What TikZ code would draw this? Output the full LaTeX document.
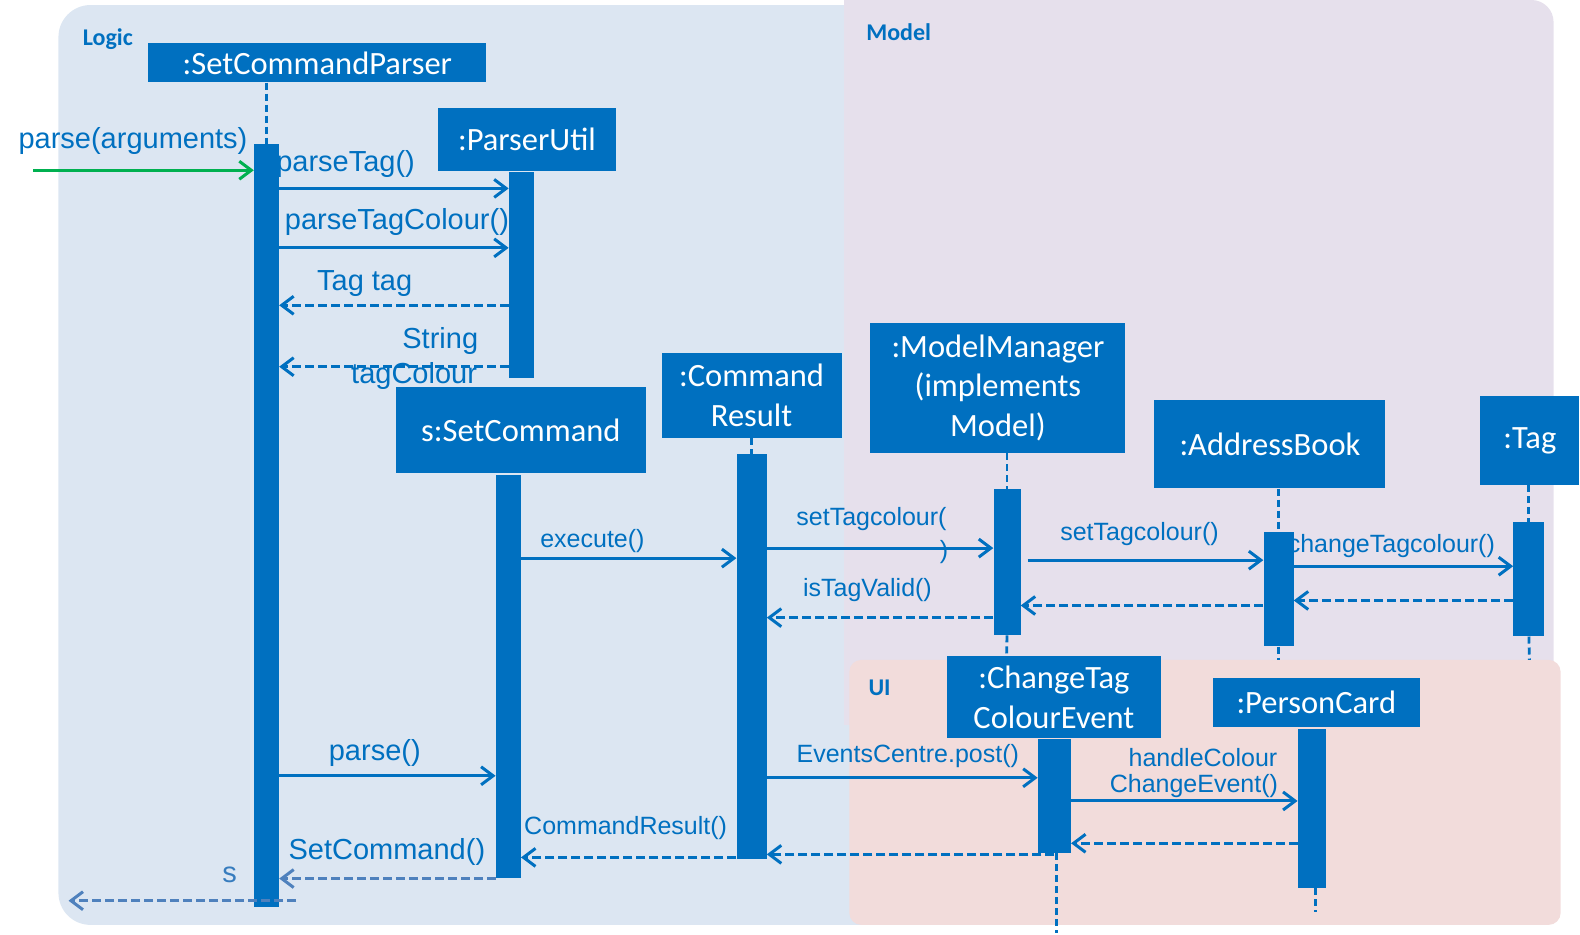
\documentclass[tikz,border=0pt]{standalone}
\usepackage{fontspec}
\setmainfont{Liberation Sans}
\newfontfamily\calfont{Carlito}
\usetikzlibrary{arrows.meta}
\definecolor{mblue}{HTML}{0070C0}
\definecolor{logicbg}{HTML}{DCE6F2}
\definecolor{modelbg}{HTML}{E6E0EC}
\definecolor{uibg}{HTML}{F2DCDB}
\definecolor{mgreen}{HTML}{00B050}
\definecolor{lblue}{HTML}{4F81BD}
\begin{document}
\begin{tikzpicture}[x=1.0075pt,y=-1.0075pt,
  objbox/.style={fill=mblue, text=white, inner sep=0pt, align=center, font=\calfont\fontsize{32.5}{39.5}\selectfont},
  actbar/.style={fill=mblue, inner sep=0pt},
  lifeline/.style={draw=mblue, line width=2.8pt, dash pattern=on 7pt off 4pt},
  msg/.style={draw=mblue, line width=3pt, -{Straight Barb[length=12pt,width=18pt]}},
  retmsg/.style={msg, dash pattern=on 9pt off 4pt},
  biglbl/.style={text=mblue, inner sep=0pt, yshift=-2.5pt, font=\fontsize{29}{33}\selectfont},
  smalllbl/.style={text=mblue, inner sep=0pt, yshift=-2.5pt, font=\fontsize{25}{29.5}\selectfont},
  regionlbl/.style={text=mblue, inner sep=0pt, yshift=-1.5pt, font=\calfont\bfseries\fontsize{24}{28}\selectfont}
]
\useasboundingbox (0,0) rectangle (1568.24,927.05);
% backgrounds
\fill[logicbg, rounded corners=32pt] (58,5) rectangle (950,918);
\fill[modelbg, rounded corners=22pt] (838,0) rectangle (1542,720);
\fill[modelbg] (838,0) rectangle (900,720);
\fill[uibg, rounded corners=12pt] (843,655) rectangle (1549,918);
\node[regionlbl] (lLogic) at (107,37) {Logic};
\node[regionlbl] (lModel) at (892,30) {Model};
\node[regionlbl] (lUI) at (873,681) {UI};

% object boxes
\node[objbox, minimum width=338pt, minimum height=39pt] (scp) at (315,62.5) {:SetCommandParser};
\node[objbox, minimum width=178pt, minimum height=63pt] (pu) at (523,138.5) {:ParserUtil};
\node[objbox, minimum width=250pt, minimum height=86pt] (sc) at (517,427) {s:SetCommand};
\node[objbox, minimum width=180pt, minimum height=85pt] (cr) at (746,392.5) {:Command\\Result};
\node[objbox, minimum width=255pt, minimum height=130pt] (mm) at (990.5,385) {:ModelManager\\(implements\\Model)};
\node[objbox, minimum width=231pt, minimum height=88pt] (ab) at (1260.5,441) {:AddressBook};
\node[objbox, minimum width=99pt, minimum height=89pt] (tg) at (1518.5,437.5) {:Tag};
\node[objbox, minimum width=214pt, minimum height=82pt] (ce) at (1046,692) {:ChangeTag\\ColourEvent};
\node[objbox, minimum width=207pt, minimum height=49pt] (pc) at (1306.5,697.5) {:PersonCard};

% labels (drawn before activation bars, as in the reference)
\node[biglbl] (lParseArgs) at (132,137) {parse(arguments)};
\node[biglbl] (lParseTag) at (343,160) {parseTag()};
\node[biglbl] (lParseTagColour) at (394,218) {parseTagColour()};
\node[biglbl] (lTagTag) at (362,279) {Tag tag};
\node[biglbl] (lString) at (437,336) {String};
\node[biglbl] (lTagColour) at (411,371) {tagColour};
\node[smalllbl] (lExecute) at (588,535) {execute()};
\node[smalllbl] (lSetTc1) at (865,513) {setTagcolour(};
\node[smalllbl] (lSetTc1b) at (937,545) {)};
\node[smalllbl] (lSetTc2) at (1131,528) {setTagcolour()};
\node[smalllbl] (lChangeTc) at (1381,539) {changeTagcolour()};
\node[smalllbl] (lIsValid) at (861,583) {isTagValid()};
\node[biglbl] (lParse) at (372,745) {parse()};
\node[smalllbl] (lPost) at (901,748) {EventsCentre.post()};
\node[smalllbl] (lHandle1) at (1194,749) {handleColour};
\node[smalllbl] (lHandle2) at (1185,778) {ChangeEvent()};
\node[smalllbl] (lCR) at (621,819) {CommandResult()};
\node[biglbl] (lSC) at (384,843) {SetCommand()};
\node[biglbl, text=lblue!70!mblue] (lS) at (228,866) {s};

% activation bars
\node[actbar, minimum width=25pt, minimum height=763pt] (scpA) at (264.5,521.5) {};
\node[actbar, minimum width=25pt, minimum height=206pt] (puA) at (517.5,273) {};
\node[actbar, minimum width=25pt, minimum height=403pt] (scA) at (504.5,671.5) {};
\node[actbar, minimum width=30pt, minimum height=405pt] (crA) at (746,651.5) {};
\node[actbar, minimum width=27pt, minimum height=146pt] (mmA) at (999.5,558) {};
\node[actbar, minimum width=30pt, minimum height=114pt] (abA) at (1269,585) {};
\node[actbar, minimum width=31pt, minimum height=114pt] (tgA) at (1517.5,575) {};
\node[actbar, minimum width=33pt, minimum height=114pt] (ceA) at (1046.5,790) {};
\node[actbar, minimum width=28pt, minimum height=159pt] (pcA) at (1302,802.5) {};

% lifelines
\draw[lifeline] (scp.south -| scpA.center) -- (scpA.north);
\draw[lifeline] (cr.south) -- (crA.north);
\draw[lifeline] (mm.south -| mmA.center) -- (mmA.north);
\coordinate (mmEnd) at (999,655);
\draw[lifeline] (mmA.south) -- (mmEnd);
\draw[lifeline] (ab.south -| abA.center) -- (abA.north);
\coordinate (abEnd) at (1269,655);
\draw[lifeline] (abA.south) -- (abEnd);
\draw[lifeline] (tg.south -| tgA.center) -- (tgA.north);
\coordinate (tgEnd) at (1518,655);
\draw[lifeline] (tgA.south) -- (tgEnd);
\coordinate (ceEnd) at (1049,926);
\draw[lifeline] (ceA.south -| ceEnd) -- (ceEnd);
\coordinate (pcEnd) at (1306,905);
\draw[lifeline] (pcA.south -| pcEnd) -- (pcEnd);

% messages
\coordinate (startP) at (33,169);
\draw[msg, draw=mgreen] (startP) -- (scpA.west |- startP);
\draw[msg] (scpA.east |- 0,187) -- (puA.west |- 0,187);
\draw[msg] (scpA.east |- 0,246) -- (puA.west |- 0,246);
\draw[retmsg] (puA.west |- 0,303) -- (scpA.east |- 0,303);
\draw[retmsg] (puA.west |- 0,364) -- (scpA.east |- 0,364);

\draw[msg] (scA.east |- 0,554) -- (crA.west |- 0,554);
\draw[msg] (crA.east |- 0,544) -- (mmA.west |- 0,544);
\coordinate (abMsgStart) at (1020,556);
\draw[msg] (abMsgStart) -- (abA.west |- abMsgStart);
\draw[msg] (abA.east |- 0,562) -- (tgA.west |- 0,562);
\draw[retmsg] (tgA.west |- 0,596) -- (abA.east |- 0,596);
\draw[retmsg] (abA.west |- 0,601) -- (mmA.east |- 0,601);
\draw[retmsg] (mmA.west |- 0,613) -- (crA.east |- 0,613);

\draw[msg] (scpA.east |- 0,770) -- (scA.west |- 0,770);
\draw[msg] (crA.east |- 0,772) -- (ceA.west |- 0,772);
\draw[msg] (ceA.east |- 0,795) -- (pcA.west |- 0,795);
\draw[retmsg] (pcA.west |- 0,837) -- (ceA.east |- 0,837);
\draw[retmsg] (ceA.center |- 0,848) -- (crA.east |- 0,848);
\draw[retmsg] (crA.west |- 0,851) -- (scA.east |- 0,851);
\draw[retmsg, draw=lblue] (scA.west |- 0,872) -- (scpA.east |- 0,872);
\coordinate (finS) at (294,894);
\coordinate (finE) at (68,894);
\draw[retmsg, draw=lblue] (finS) -- (finE);
\end{tikzpicture}
\end{document}
